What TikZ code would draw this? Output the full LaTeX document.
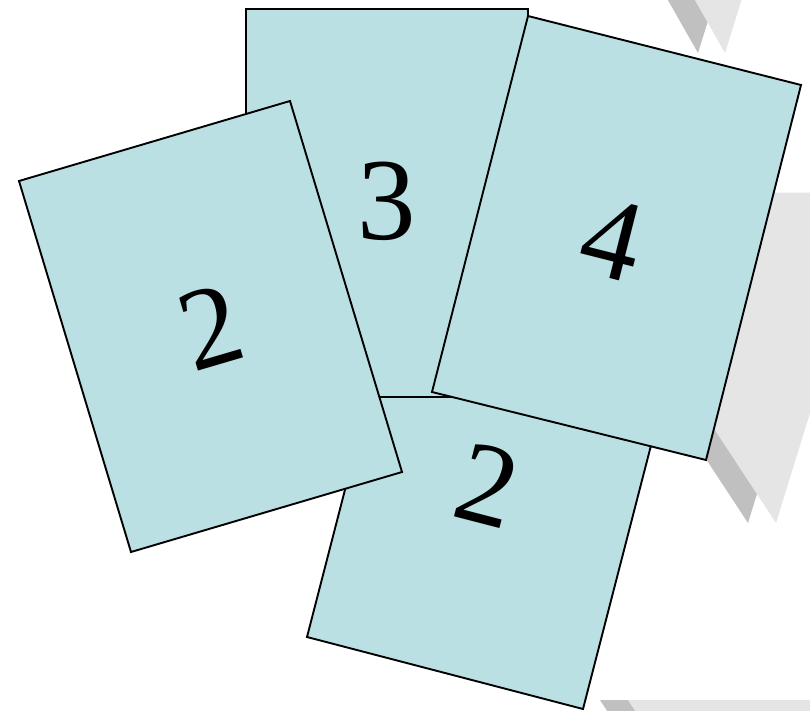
\documentclass[tikz,border=0pt]{standalone}
\usepackage{fontspec}
\setmainfont{Liberation Serif}
\definecolor{cardfill}{RGB}{187,224,227}
\definecolor{shadelight}{RGB}{229,229,229}
\definecolor{shadedark}{RGB}{192,192,192}
\tikzset{
  cardbox/.style={fill=cardfill, draw=black, line width=1.9pt, line join=miter},
  lightshade/.style={fill=shadelight, draw=none},
  darkshade/.style={fill=shadedark, draw=none},
  digit/.style={inner sep=0pt, font=\fontsize{117}{117}\selectfont}
}
\begin{document}
\begin{tikzpicture}[x=1pt, y=-1pt]
\useasboundingbox (0,0) rectangle (810,711);
\begin{scope}
\clip (0,0) rectangle (810,711);
% shadows (top)
\fill[darkshade] (665,-5) -- (716,-5) -- (698,53) -- cycle;
\fill[lightshade] (692,-5) -- (743,-5) -- (725,53) -- cycle;
% shadows (middle)
\fill[darkshade] (531,193) -- (850,193) -- (748,523) -- cycle;
\fill[lightshade] (559,193) -- (878,193) -- (776,523) -- cycle;
% shadows (bottom)
\fill[darkshade] (600,700) -- (900,700) -- (900,720) -- (613,720) -- cycle;
\fill[lightshade] (628,700) -- (900,700) -- (900,720) -- (641,720) -- cycle;
\end{scope}
% card 2 (bottom)
\filldraw[cardbox] (404,261) -- (680,333) -- (583,709) -- (307,637) -- cycle;
\node[digit, rotate=-14.5] (twob) at (488,485) {2};
% card 3
\filldraw[cardbox] (246,9) -- (528,9) -- (528,397) -- (246,397) -- cycle;
\node[digit] (three) at (386.5,201.5) {3};
% card 4
\filldraw[cardbox] (528,16) -- (801,85) -- (706,460) -- (432,392) -- cycle;
\node[digit, rotate=-14.2] (four) at (612.5,239) {4};
% card 2 (left)
\filldraw[cardbox] (19,181) -- (290,101) -- (402,472) -- (131,552) -- cycle;
\node[digit, rotate=16.4] (twol) at (211,327.5) {2};
\end{tikzpicture}
\end{document}
